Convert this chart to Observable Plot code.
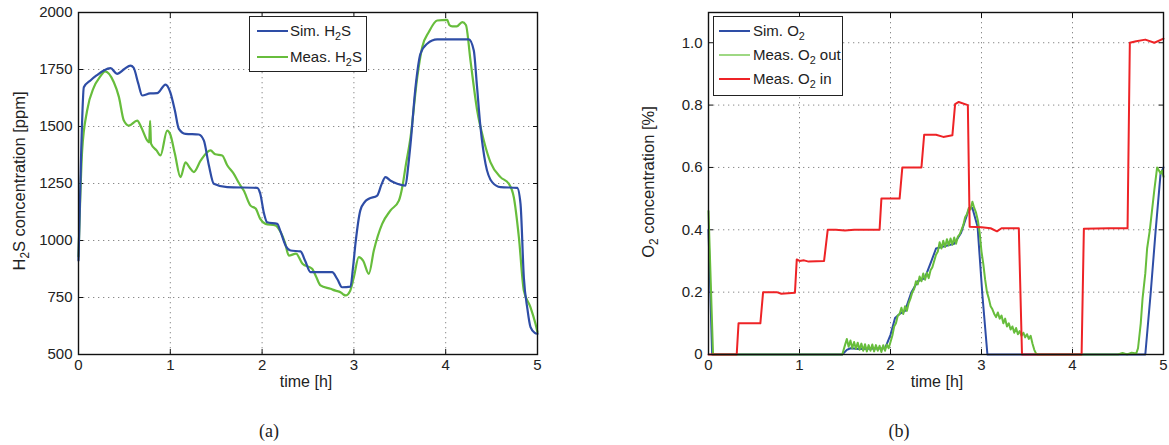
<!DOCTYPE html>
<html>
<head>
<meta charset="utf-8">
<script src="https://cdn.jsdelivr.net/npm/d3@7"></script>
<script src="https://cdn.jsdelivr.net/npm/@observablehq/plot@0.6"></script>
<style>
  html, body { margin: 0; padding: 0; background: #fff; }
  #wrap { position: relative; width: 1169px; height: 445px; overflow: hidden; font-family: "Liberation Sans", Arial, sans-serif; color: #222; }
  .panel { position: absolute; top: 0; }
  .legend { position: absolute; background: #fff; border: 1.5px solid #222; box-sizing: border-box; font-size: 15px; }
  .row { position: absolute; left: 0; height: 20px; line-height: 20px; white-space: nowrap; }
  .swatch { position: absolute; top: 9px; height: 2px; }
  .lbl { position: absolute; top: 0; }
  sub { font-size: 0.72em; vertical-align: -0.4em; line-height: 0; }
  .ylab { position: absolute; font-size: 16.5px; white-space: nowrap; transform: translate(-50%, -50%) rotate(-90deg); }
  .xlab { position: absolute; font-size: 16px; white-space: nowrap; transform: translate(-50%, -50%); }
  .cap { position: absolute; font-family: "Liberation Serif", "Times New Roman", serif; font-size: 18px; transform: translate(-50%, -50%); }
</style>
</head>
<body>
<div id="wrap">
  <div id="pa" class="panel" style="left:0px"></div>
  <div id="pb" class="panel" style="left:640px"></div>
  <div class="ylab" style="left:19px; top:181px">H<sub>2</sub>S concentration [ppm]</div>
  <div class="ylab" style="left:648px; top:182px">O<sub>2</sub> concentration [%]</div>
  <div class="xlab" style="left:306px; top:382px">time [h]</div>
  <div class="xlab" style="left:937px; top:382px">time [h]</div>
  <div class="cap" style="left:269px; top:431px">(a)</div>
  <div class="cap" style="left:899px; top:431px">(b)</div>
</div>
<script>
// ---------- shared ticks ----------
const xTicks = [0, 1, 2, 3, 4, 5];
const yTicksA = [500, 750, 1000, 1250, 1500, 1750, 2000];
const yTicksB = [0, 0.2, 0.4, 0.6, 0.8, 1.0];

// ---------- panel (a): H2S ----------
const simH2S_t = [0,0.03,0.058,0.13,0.2,0.276,0.349,0.42,0.5,0.566,0.6,0.65,0.694,0.78,0.857,0.948,1.0,1.05,1.093,1.166,1.31,1.365,1.42,1.474,1.62,1.946,1.98,2.02,2.055,2.165,2.2,2.26,2.31,2.418,2.47,2.527,2.763,2.82,2.872,2.963,2.99,3.017,3.07,3.12,3.163,3.254,3.3,3.344,3.4,3.472,3.562,3.59,3.617,3.671,3.725,3.798,3.907,4.252,4.306,4.34,4.379,4.434,4.506,4.597,4.779,4.815,4.851,4.89,4.924,4.97,5.0];
const simH2S_v = [912,1400,1672,1702,1725,1746,1756,1731,1752,1767,1758,1690,1636,1645,1646,1684,1650,1570,1490,1468,1465,1439,1330,1249,1234,1231,1205,1120,1080,1073,1040,975,956,952,910,861,861,830,795,798,880,986,1132,1170,1183,1197,1245,1278,1262,1249,1241,1320,1424,1672,1819,1863,1882,1882,1833,1680,1497,1336,1256,1234,1231,1161,839,700,620,595,591];

const measH2S_t = [0,0.04,0.094,0.167,0.23,0.29,0.385,0.44,0.494,0.548,0.639,0.686,0.748,0.77,0.78,0.79,0.85,0.893,0.966,1.0,1.05,1.111,1.166,1.21,1.256,1.33,1.438,1.49,1.565,1.62,1.692,1.75,1.8,1.874,1.93,1.98,2.037,2.146,2.2,2.25,2.291,2.37,2.44,2.545,2.59,2.636,2.745,2.8,2.854,2.88,2.909,2.96,3.0,3.053,3.1,3.163,3.217,3.308,3.399,3.49,3.53,3.562,3.617,3.69,3.744,3.816,3.907,4.016,4.04,4.07,4.12,4.18,4.22,4.27,4.343,4.415,4.488,4.597,4.688,4.742,4.797,4.851,4.924,4.978,5.0];
const measH2S_v = [930,1395,1570,1672,1715,1742,1694,1630,1526,1504,1526,1495,1439,1430,1525,1425,1395,1373,1482,1465,1380,1278,1343,1320,1300,1350,1395,1378,1373,1330,1292,1250,1219,1153,1140,1095,1073,1066,1038,990,934,942,898,876,840,803,788,780,773,765,759,780,840,927,912,854,956,1073,1132,1175,1240,1322,1453,1716,1848,1914,1965,1968,1945,1939,1939,1958,1945,1789,1570,1439,1343,1278,1249,1190,1015,781,707,635,598];

// ---------- panel (b): O2 ----------
const simO2_t = [0,0.04,1.47,1.52,1.56,1.65,1.94,2.0,2.05,2.1,2.16,2.23,2.3,2.377,2.45,2.5,2.56,2.7,2.775,2.866,2.9,2.957,3.01,3.065,4.8,4.86,4.913,4.967,5.0];
const simO2_v = [0.4,0,0,0.015,0.02,0.018,0.02,0.063,0.117,0.13,0.14,0.2,0.235,0.245,0.3,0.34,0.345,0.355,0.39,0.47,0.47,0.41,0.19,0,0,0.2,0.395,0.578,0.6];

const measO2out_t = [0,0.05,1.47,1.5,1.52,1.54,1.56,1.58,1.6,1.62,1.64,1.66,1.68,1.7,1.72,1.74,1.76,1.78,1.8,1.82,1.84,1.86,1.88,1.9,1.92,1.94,1.96,1.98,2.0,2.02,2.04,2.06,2.08,2.1,2.12,2.14,2.16,2.18,2.2,2.22,2.24,2.26,2.28,2.3,2.32,2.34,2.36,2.38,2.4,2.42,2.44,2.46,2.48,2.5,2.52,2.54,2.56,2.58,2.6,2.62,2.64,2.66,2.68,2.7,2.72,2.74,2.76,2.78,2.8,2.82,2.84,2.86,2.88,2.9,2.92,2.94,2.96,2.98,3.0,3.02,3.04,3.06,3.08,3.1,3.12,3.14,3.16,3.18,3.2,3.22,3.24,3.26,3.28,3.3,3.32,3.34,3.36,3.38,3.4,3.42,3.44,3.46,3.48,3.5,3.52,3.54,3.56,3.58,3.6,3.62,4.5,4.55,4.6,4.65,4.7,4.72,4.75,4.77,4.8,4.82,4.85,4.877,4.9,4.93,4.95,4.967,4.985,5.0];
const measO2out_v = [0.46,0,0,0.03,0.05,0.025,0.045,0.02,0.04,0.018,0.038,0.015,0.035,0.012,0.033,0.01,0.03,0.012,0.032,0.01,0.03,0.012,0.028,0.008,0.03,0.012,0.032,0.02,0.04,0.06,0.09,0.1,0.125,0.13,0.15,0.13,0.155,0.14,0.165,0.18,0.2,0.21,0.235,0.225,0.25,0.235,0.26,0.24,0.262,0.245,0.27,0.28,0.3,0.32,0.33,0.36,0.34,0.365,0.345,0.37,0.35,0.372,0.352,0.375,0.355,0.378,0.385,0.4,0.415,0.44,0.45,0.47,0.465,0.49,0.47,0.455,0.43,0.39,0.33,0.29,0.24,0.2,0.18,0.155,0.145,0.13,0.12,0.135,0.115,0.125,0.1,0.115,0.09,0.1,0.08,0.09,0.07,0.085,0.065,0.075,0.06,0.07,0.055,0.065,0.05,0.06,0.035,0.015,0.003,0,0,0.005,0,0.006,0.003,0.02,0.1,0.18,0.26,0.34,0.4,0.47,0.53,0.6,0.59,0.58,0.59,0.57];

const measO2in_t = [0,0.31,0.33,0.57,0.6,0.75,0.8,0.95,0.97,1.0,1.05,1.1,1.27,1.31,1.4,1.5,1.6,1.88,1.9,2.1,2.13,2.34,2.37,2.5,2.58,2.68,2.71,2.75,2.85,2.87,3.0,3.1,3.17,3.22,3.41,3.445,4.1,4.125,4.4,4.605,4.63,4.7,4.8,4.9,5.0];
const measO2in_v = [0,0,0.1,0.1,0.2,0.2,0.195,0.198,0.305,0.3,0.302,0.298,0.3,0.4,0.4,0.398,0.4,0.4,0.5,0.5,0.6,0.6,0.705,0.705,0.698,0.703,0.803,0.81,0.8,0.41,0.408,0.405,0.395,0.405,0.405,0,0,0.403,0.405,0.405,1.0,1.005,1.01,1.0,1.013];

// ---------- colours ----------
const cBlue = "#2e4da6";
const cGreen = "#67bd3c";
const cGreenLight = "#9ed883";
const cRed = "#ee2326";

const zip = (ts, vs) => ts.map((t, i) => ({t, v: vs[i]}));

const baseStyle = {fontFamily: "'Liberation Sans', Arial, sans-serif", fontSize: "15px", color: "#222", background: "transparent", overflow: "visible"};
const gridStyle = {stroke: "#8a8a8a", strokeOpacity: 1, strokeDasharray: "1.3,3.7", strokeWidth: 1};
const innerTicks = (ticksX, ticksY) => [
  Plot.axisX(ticksX, {anchor: "bottom", tickSize: -5, tickFormat: () => "", label: null, stroke: "#111"}),
  Plot.axisX(ticksX, {anchor: "top", tickSize: -5, tickFormat: () => "", label: null, stroke: "#111"}),
  Plot.axisY(ticksY, {anchor: "left", tickSize: -5, tickFormat: () => "", label: null, stroke: "#111"}),
  Plot.axisY(ticksY, {anchor: "right", tickSize: -5, tickFormat: () => "", label: null, stroke: "#111"})
];

// Panel (a)
const plotA = Plot.plot({
  width: 560, height: 400,
  marginLeft: 78, marginRight: 23, marginTop: 12, marginBottom: 46,
  style: baseStyle,
  x: {domain: [0, 5]},
  y: {domain: [500, 2000]},
  marks: [
    Plot.gridX(xTicks, gridStyle),
    Plot.gridY(yTicksA, gridStyle),
    Plot.axisX(xTicks, {tickSize: 0, tickPadding: 5, tickFormat: d3.format("d"), label: null, fontSize: 15}),
    Plot.axisY(yTicksA, {tickSize: 0, tickPadding: 6, tickFormat: d3.format("d"), label: null, fontSize: 15}),
    ...innerTicks(xTicks, yTicksA),
    Plot.line(zip(measH2S_t, measH2S_v), {x: "t", y: "v", stroke: cGreen, strokeWidth: 2.2, curve: "monotone-x"}),
    Plot.line(zip(simH2S_t, simH2S_v), {x: "t", y: "v", stroke: cBlue, strokeWidth: 2.2, curve: "monotone-x"}),
    Plot.frame({stroke: "#111", strokeWidth: 1.4})
  ]
});
document.getElementById("pa").appendChild(plotA);

// Panel (b)
const plotB = Plot.plot({
  width: 529, height: 400,
  marginLeft: 68, marginRight: 6, marginTop: 12, marginBottom: 46,
  style: baseStyle,
  x: {domain: [0, 5]},
  y: {domain: [0, 1.097]},
  marks: [
    Plot.gridX(xTicks, gridStyle),
    Plot.gridY(yTicksB, gridStyle),
    Plot.axisX(xTicks, {tickSize: 0, tickPadding: 5, tickFormat: d3.format("d"), label: null, fontSize: 15}),
    Plot.axisY(yTicksB, {tickSize: 0, tickPadding: 6, tickFormat: d => d === 0 ? "0" : d.toFixed(1), label: null, fontSize: 15}),
    ...innerTicks(xTicks, yTicksB),
    Plot.line(zip(simO2_t, simO2_v), {x: "t", y: "v", stroke: cBlue, strokeWidth: 2}),
    Plot.line(zip(measO2out_t, measO2out_v), {x: "t", y: "v", stroke: cGreen, strokeWidth: 2}),
    Plot.line(zip(measO2in_t, measO2in_v), {x: "t", y: "v", stroke: cRed, strokeWidth: 2}),
    Plot.frame({stroke: "#111", strokeWidth: 1.4})
  ]
});
document.getElementById("pb").appendChild(plotB);

// ---------- legends (HTML, with real subscripts) ----------
function legend(left, top, w, h, items, rowYs, swL, swW, txtL) {
  const box = document.createElement("div");
  box.className = "legend";
  Object.assign(box.style, {left: left + "px", top: top + "px", width: w + "px", height: h + "px"});
  items.forEach((it, i) => {
    const row = document.createElement("div");
    row.className = "row";
    row.style.top = (rowYs[i] - top - 10) + "px";
    row.style.width = "100%";
    const sw = document.createElement("span");
    sw.className = "swatch";
    Object.assign(sw.style, {left: (swL - left) + "px", width: swW + "px", background: it.color});
    const tx = document.createElement("span");
    tx.className = "lbl";
    tx.style.left = (txtL - left) + "px";
    tx.innerHTML = it.html;
    row.appendChild(sw); row.appendChild(tx);
    box.appendChild(row);
  });
  document.getElementById("wrap").appendChild(box);
}
legend(249, 16, 118, 56,
  [{html: "Sim. H<sub>2</sub>S", color: cBlue}, {html: "Meas. H<sub>2</sub>S", color: cGreen}],
  [30, 56], 256, 31, 289);
legend(713, 16, 130, 80,
  [{html: "Sim. O<sub>2</sub>", color: cBlue}, {html: "Meas. O<sub>2</sub> out", color: cGreenLight}, {html: "Meas. O<sub>2</sub> in", color: cRed}],
  [30, 54, 78], 718, 31, 752);
</script>
</body>
</html>
